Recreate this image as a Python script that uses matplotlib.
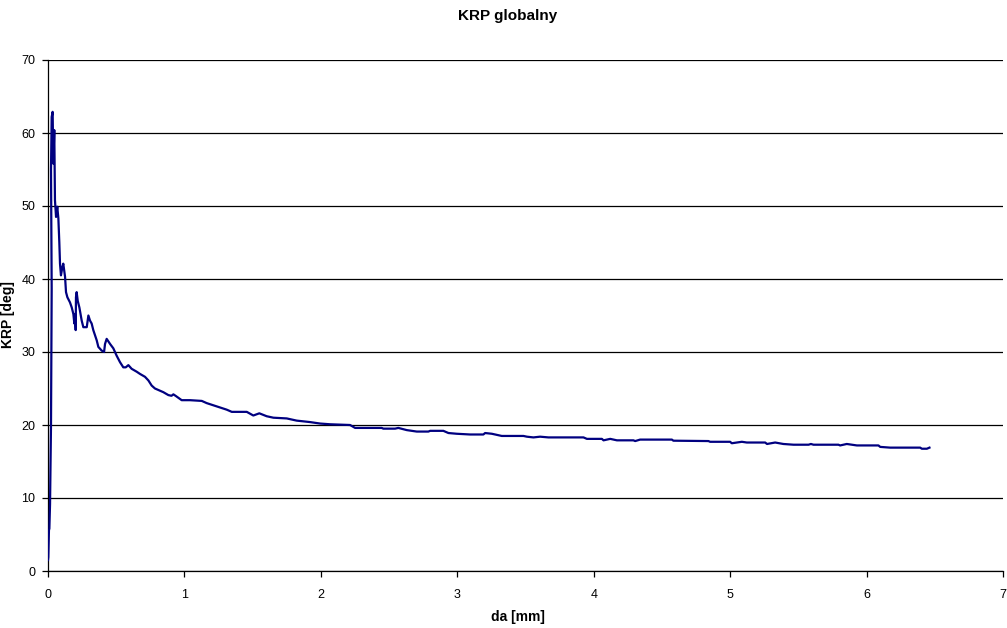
import matplotlib
matplotlib.use("Agg")
import matplotlib.pyplot as plt

plt.rcParams["font.family"] = ["Liberation Sans", "DejaVu Sans"]

# KRP vs da
da = [0.0, 0.0024, 0.007, 0.010, 0.015, 0.022, 0.027, 0.022, 0.027, 0.034, 0.039,
      0.046, 0.051, 0.059, 0.068, 0.076, 0.083, 0.088, 0.095, 0.105, 0.112,
      0.125, 0.132, 0.142, 0.161, 0.174, 0.186, 0.193, 0.198, 0.203, 0.205,
      0.210, 0.218, 0.230, 0.247, 0.259, 0.284, 0.296, 0.308, 0.320, 0.332,
      0.357, 0.369, 0.393, 0.411, 0.418, 0.430, 0.455, 0.479, 0.503, 0.528,
      0.552, 0.570, 0.589, 0.613, 0.650, 0.674, 0.711, 0.736, 0.760, 0.784,
      0.821, 0.845, 0.882, 0.905, 0.919, 0.935, 0.980, 1.041, 1.127, 1.163,
      1.212, 1.261, 1.310, 1.347, 1.457, 1.505, 1.549, 1.603, 1.652, 1.750,
      1.823, 1.921, 1.994, 2.067, 2.214, 2.251, 2.446, 2.458, 2.544, 2.568,
      2.630, 2.703, 2.788, 2.801, 2.898, 2.935, 2.996, 3.094, 3.191, 3.204,
      3.253, 3.326, 3.485, 3.510, 3.558, 3.607, 3.668, 3.925, 3.950, 4.060,
      4.072, 4.121, 4.170, 4.291, 4.304, 4.340, 4.573, 4.584, 4.841, 4.853,
      5.000, 5.012, 5.086, 5.122, 5.257, 5.270, 5.330, 5.390, 5.465, 5.575,
      5.592, 5.611, 5.794, 5.806, 5.855, 5.929, 6.087, 6.100, 6.173, 6.393,
      6.405, 6.442, 6.461]
krp = [1.5, 1.9, 5.6, 5.8, 9.2, 20.0, 38.7, 55.0, 62.2, 62.9, 55.8,
       60.4, 50.8, 48.5, 49.9, 48.3, 45.0, 42.1, 40.5, 41.6, 42.1,
       40.3, 38.2, 37.5, 36.8, 36.1, 35.2, 33.9, 35.2, 33.0, 37.5,
       38.2, 37.0, 36.1, 34.3, 33.4, 33.4, 35.0, 34.3, 33.9, 33.0,
       31.6, 30.7, 30.2, 30.0, 31.1, 31.8, 31.1, 30.5, 29.5, 28.6,
       27.9, 27.9, 28.2, 27.7, 27.3, 27.0, 26.6, 26.1, 25.4, 25.0,
       24.7, 24.5, 24.1, 24.0, 24.2, 24.0, 23.4, 23.4, 23.3, 23.0,
       22.7, 22.4, 22.1, 21.8, 21.8, 21.3, 21.6, 21.2, 21.0, 20.9,
       20.6, 20.4, 20.2, 20.1, 20.0, 19.6, 19.6, 19.5, 19.5, 19.6,
       19.3, 19.1, 19.1, 19.2, 19.2, 18.9, 18.8, 18.7, 18.7, 18.9,
       18.8, 18.5, 18.5, 18.4, 18.3, 18.4, 18.3, 18.3, 18.1, 18.1,
       17.9, 18.1, 17.9, 17.9, 17.8, 18.0, 18.0, 17.85, 17.8, 17.7,
       17.7, 17.5, 17.7, 17.6, 17.6, 17.4, 17.6, 17.4, 17.3, 17.3,
       17.4, 17.3, 17.3, 17.2, 17.4, 17.2, 17.2, 17.0, 16.9, 16.9,
       16.75, 16.75, 16.9]

x_ticks = [0, 1, 2, 3, 4, 5, 6, 7]
y_ticks = [0, 10, 20, 30, 40, 50, 60, 70]

fig = plt.figure(figsize=(10.07, 6.28), dpi=100)
ax = fig.add_axes([48 / 1007, 1 - 571 / 628, 955 / 1007, 511 / 628])

ax.plot(da, krp, color="#000080", linewidth=1.6, zorder=3)

ax.set_xlim(0, 7)
ax.set_ylim(0, 70)
ax.set_xticks(x_ticks)
ax.set_yticks(y_ticks)
ax.yaxis.grid(True, color="black", linewidth=0.9)
ax.set_axisbelow(True)

for side in ["top", "right"]:
    ax.spines[side].set_visible(False)
for side in ["left", "bottom"]:
    ax.spines[side].set_linewidth(0.9)

ax.tick_params(direction="out", length=4, width=0.9, labelsize=9)
ax.tick_params(axis="x", pad=9)
ax.tick_params(axis="y", pad=5)

ax.set_xlabel("da [mm]", fontsize=10, fontweight="bold", va="center")
ax.set_ylabel("KRP [deg]", fontsize=10, fontweight="bold", va="center")
ax.xaxis.set_label_coords((518 - 48) / 955, (571 - 617) / 511)
ax.yaxis.set_label_coords((8 - 48) / 955, (571 - 315) / 511)
fig.text(0.504, 0.985, "KRP globalny", ha="center", va="top",
         fontsize=11, fontweight="bold")

fig.savefig("out.png", dpi=100)
